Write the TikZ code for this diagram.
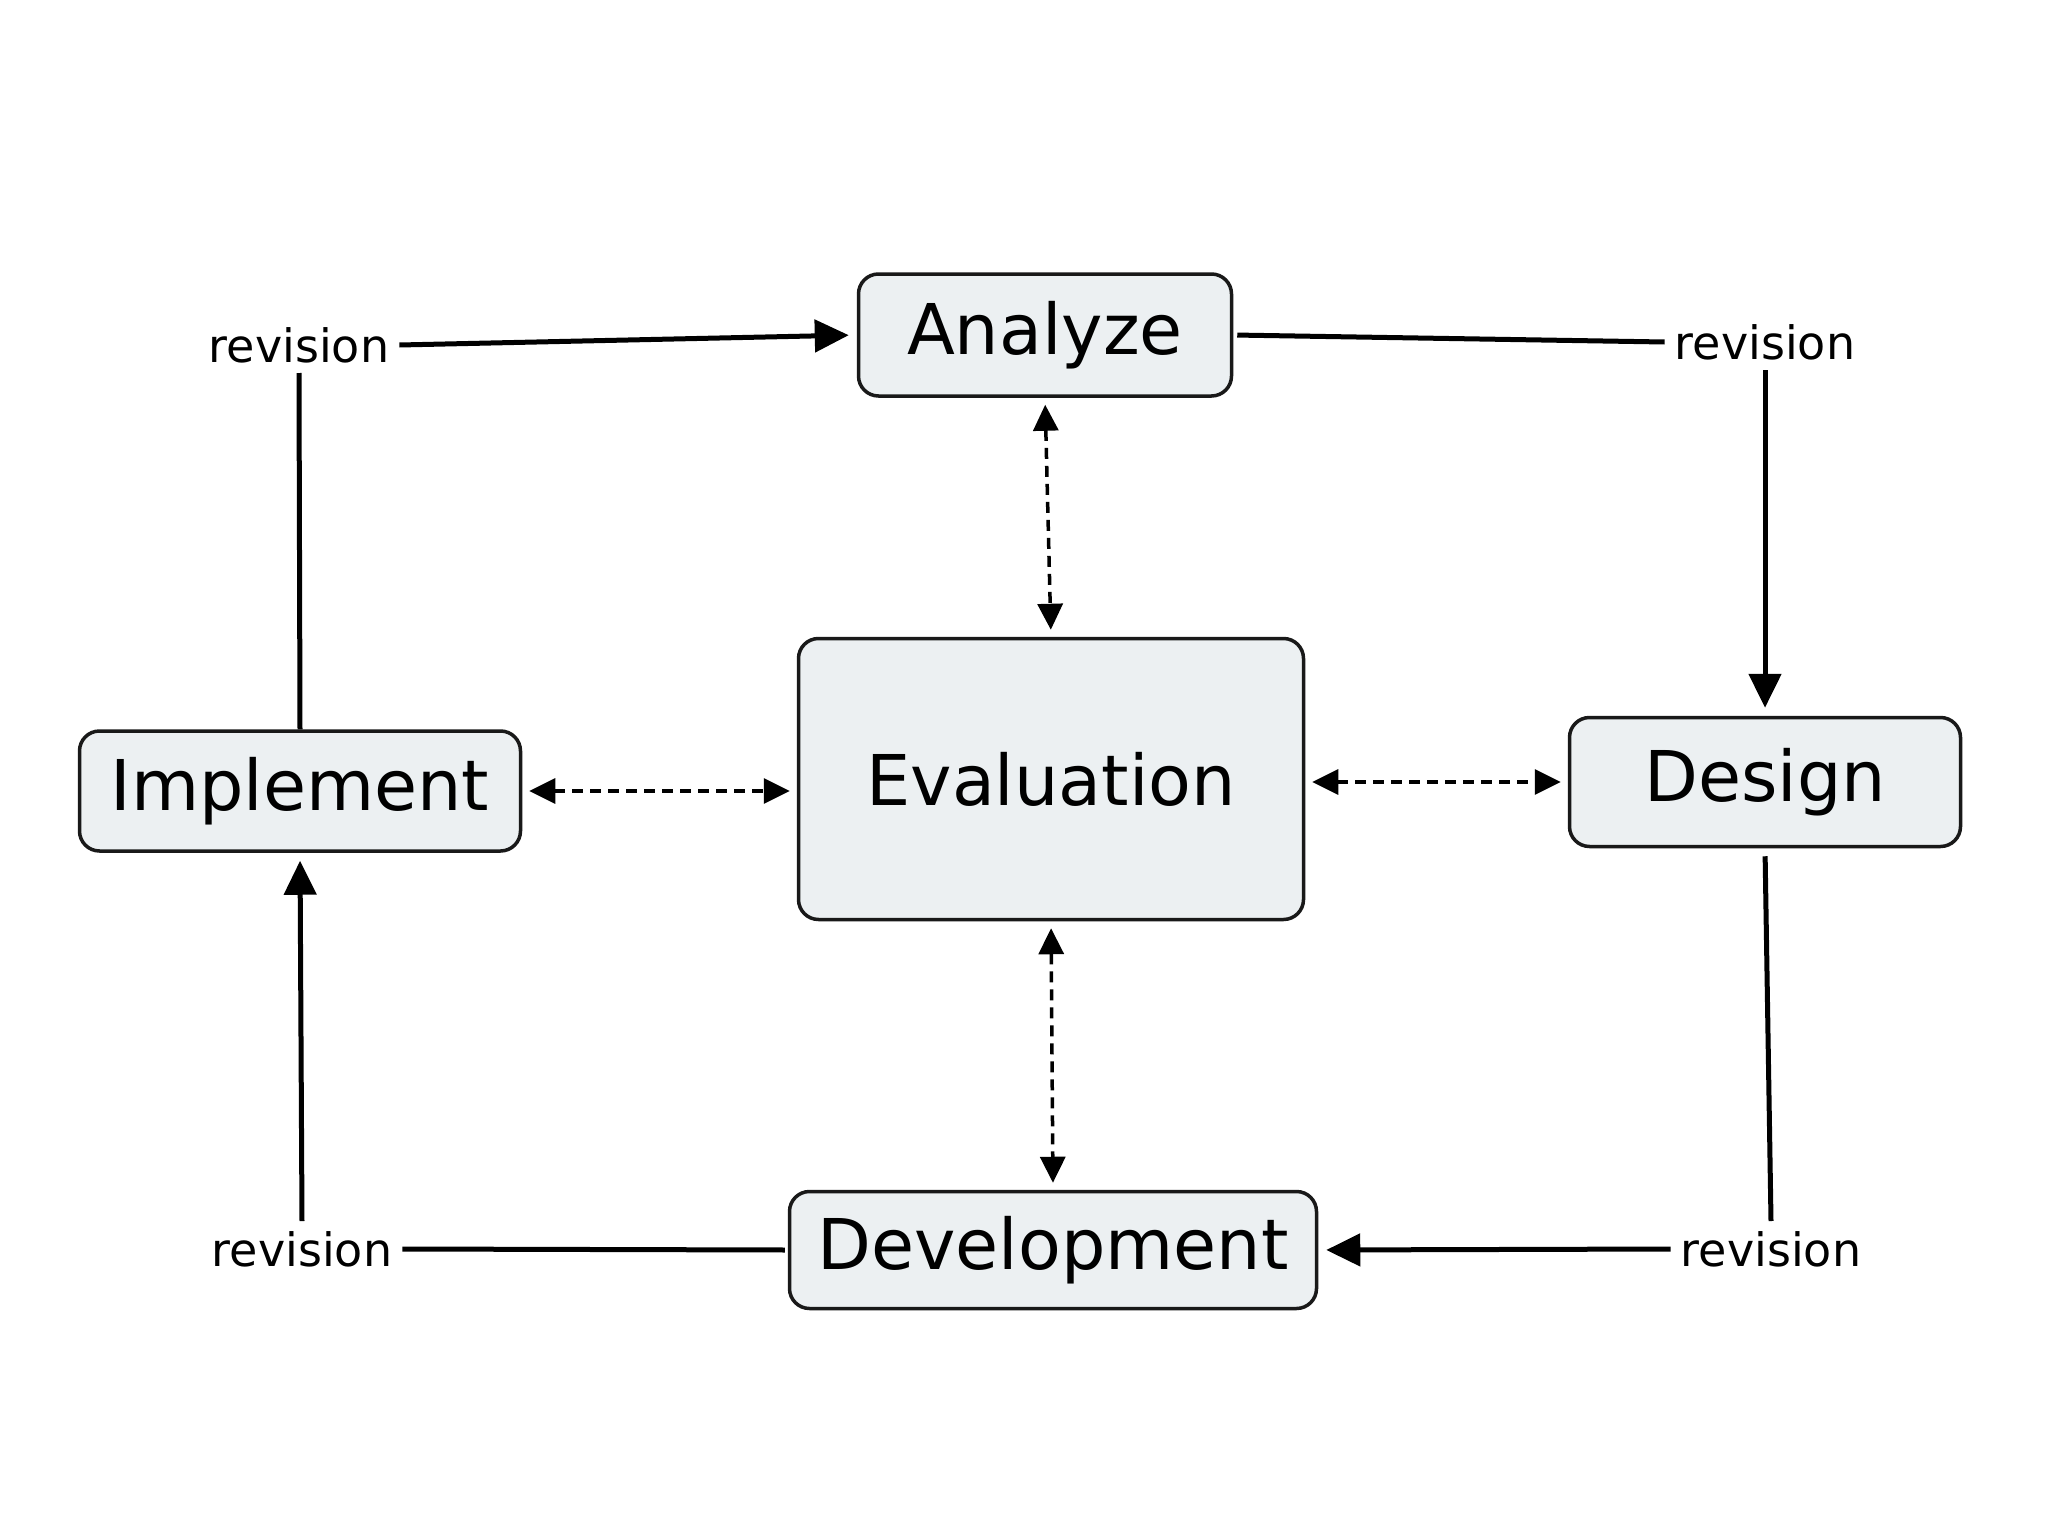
\documentclass[tikz,border=0pt]{standalone}
\usepackage{fontspec}
\setmainfont{DejaVu Sans}
\usetikzlibrary{arrows.meta}
\definecolor{boxfill}{HTML}{ECF0F2}
\tikzset{
  box/.style={draw=black!90, line width=3.5pt, rounded corners=20pt, fill=boxfill,
    font=\fontsize{70}{80}\selectfont, inner sep=0pt, anchor=center},
  rev/.style={font=\fontsize{46}{52}\selectfont, inner sep=10pt, anchor=center},
  solid arrow/.style={line width=5pt, -{Triangle[length=34pt,width=32pt]}, shorten >=8pt},
  plain line/.style={line width=5pt},
  dash arrow/.style={line width=3.5pt, dash pattern=on 11pt off 7pt,
    {Triangle[length=26pt,width=25pt]}-{Triangle[length=26pt,width=25pt]},
    shorten >=7pt, shorten <=7pt}
}
\begin{document}
\begin{tikzpicture}[x=1pt,y=-1pt]
\useasboundingbox (0,0) rectangle (2048,1536);
\fill[white] (0,0) rectangle (2048,1536);

\node[box, minimum width=373pt, minimum height=122pt] (an) at (1045,335) {Analyze};
\node[box, minimum width=505pt, minimum height=281pt] (ev) at (1051,779) {Evaluation};
\node[box, minimum width=441pt, minimum height=120pt] (im) at (300,791) {Implement};
\node[box, minimum width=391pt, minimum height=129pt] (de) at (1765,782) {Design};
\node[box, minimum width=527pt, minimum height=117pt] (dv) at (1053,1250) {Development};

\node[rev] (rtl) at (299,345) {revision};
\node[rev] (rtr) at (1765,342) {revision};
\node[rev] (rbl) at (302,1249) {revision};
\node[rev] (rbr) at (1771,1249) {revision};

% cycle
\draw[plain line] (im.north) -- (rtl.south);
\draw[solid arrow] (rtl.east) -- (an.west);
\draw[plain line, shorten <=4pt] (an.east) -- (rtr.west);
\draw[solid arrow] (rtr.south) -- (de.north);
\draw[plain line, shorten <=8pt] (de.south) -- (rbr.north);
\draw[solid arrow] (rbr.west) -- (dv.east);
\draw[plain line, shorten <=3pt] (dv.west) -- (rbl.east);
\draw[solid arrow] (rbl.north) -- (im.south);

% evaluation links
\draw[dash arrow] (an.south) -- (ev.north);
\draw[dash arrow] (ev.south) -- (dv.north);
\draw[dash arrow] (im.east) -- (im.east -| ev.west);
\draw[dash arrow] (ev.east |- de.west) -- (de.west);
\end{tikzpicture}
\end{document}
